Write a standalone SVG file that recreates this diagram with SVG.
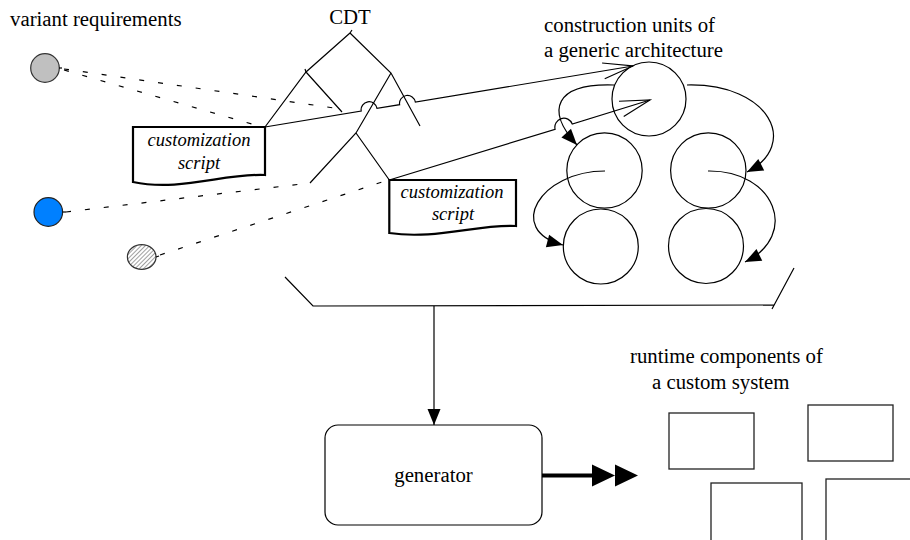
<svg xmlns="http://www.w3.org/2000/svg" width="910" height="540" viewBox="0 0 910 540">
<style>
.t{font-family:"Liberation Serif","Times New Roman",serif;font-size:20.8px;fill:#000}
.it{font-family:"Liberation Serif","Times New Roman",serif;font-size:18.5px;font-style:italic;fill:#000;text-anchor:middle}
.ln{fill:none;stroke:#000;stroke-width:1.2}
.dash{fill:none;stroke:#000;stroke-width:1.2;stroke-dasharray:5,14}
.doc{fill:#fff;stroke:#000;stroke-width:2.2}
.unit{fill:#fff;stroke:#000;stroke-width:1.2}
.rt{fill:#fff;stroke:#222;stroke-width:1.3}
</style>
<defs>
<marker id="vee" markerUnits="userSpaceOnUse" markerWidth="40" markerHeight="24" refX="30" refY="10" orient="auto" overflow="visible">
<path d="M0,2 L30,10 L0,18" fill="none" stroke="#000" stroke-width="1.2"/>
</marker>
<marker id="tri" markerUnits="userSpaceOnUse" markerWidth="20" markerHeight="16" refX="16" refY="6.5" orient="auto" overflow="visible">
<path d="M0,0 L16,6.5 L0,13 Z" fill="#000"/>
</marker>
<pattern id="hatch" width="3" height="3" patternUnits="userSpaceOnUse" patternTransform="rotate(45)">
<line x1="0" y1="0" x2="0" y2="3" stroke="#444" stroke-width="1"/>
</pattern>
</defs>
<rect width="910" height="540" fill="#fff"/>

<g id="labels">
<text class="t" x="10" y="26">variant requirements</text>
<text class="t" x="350" y="24" text-anchor="middle">CDT</text>
<text class="t" x="544" y="32">construction units of</text>
<text class="t" x="544" y="57">a generic architecture</text>
<text class="t" x="630" y="363">runtime components of</text>
<text class="t" x="652" y="389">a custom system</text>
</g>

<g id="req-gray">
<circle cx="45" cy="68" r="14.3" fill="#c0c0c0" stroke="#333" stroke-width="1.2"/>
<line x1="59" y1="68" x2="62" y2="68" stroke="#000" stroke-width="1.2"/>
</g>
<g id="req-blue">
<circle cx="48.3" cy="212" r="14.3" fill="#0080ff" stroke="#222" stroke-width="1.2"/>
<line x1="62.5" y1="212" x2="66" y2="212" stroke="#000" stroke-width="1.2"/>
</g>
<g id="req-hatched">
<ellipse cx="141.7" cy="257" rx="14.3" ry="12.3" fill="#fff"/>
<ellipse cx="141.7" cy="257" rx="14.3" ry="12.3" fill="url(#hatch)" stroke="#333" stroke-width="1.2"/>
<line x1="156" y1="257" x2="159" y2="256" stroke="#000" stroke-width="1.2"/>
</g>

<g id="cdt-tree" class="ln">
<path class="ln" d="M350,33 L306,72 L265,127 M306,72 L342,112 M350,33 L391,73 L420,126 M391,73 L356,133 L310,183 M356,133 L389.3,180"/>
<path class="ln" d="M350,33 L352,30 M306,72 L305,69"/>
</g>

<g id="script-1">
<path class="doc" d="M133,127 H265 V175 C225,173 180,192 133,182 Z"/>
<text class="it" x="199" y="146">customization</text>
<text class="it" x="199" y="169">script</text>
</g>
<g id="script-2">
<path class="doc" d="M389.3,180 H516 V226 C478,224 435,240 389.3,233 Z"/>
<text class="it" x="452" y="198">customization</text>
<text class="it" x="453" y="220">script</text>
</g>

<g id="unit-top"><circle class="unit" cx="649" cy="99" r="37"/></g>
<g id="unit-mid-left"><circle class="unit" cx="604.5" cy="170.5" r="37.7"/></g>
<g id="unit-mid-right"><circle class="unit" cx="708.3" cy="170.5" r="37.7"/></g>
<g id="unit-bottom-left"><circle class="unit" cx="600.8" cy="246.5" r="37.5"/></g>
<g id="unit-bottom-right"><circle class="unit" cx="706" cy="246" r="37.5"/></g>

<g id="architecture-bracket">
<path class="ln" d="M285,277 L313,306 L774,305 M794,268 L772,309"/>
</g>

<g id="generator">
<rect x="325" y="425" width="217" height="100" rx="13" ry="13" fill="#fff" stroke="#000" stroke-width="1.2"/>
<text class="t" x="433.5" y="482" text-anchor="middle">generator</text>
</g>

<g id="runtime-1"><rect class="rt" x="669" y="413" width="85" height="56"/></g>
<g id="runtime-2"><rect class="rt" x="808" y="405" width="85" height="56"/></g>
<g id="runtime-3"><rect class="rt" x="711" y="483" width="91" height="70"/></g>
<g id="runtime-4"><rect class="rt" x="826" y="479" width="100" height="70"/></g>

<g id="connectors">
<line class="dash" x1="64" y1="69" x2="334" y2="108"/>
<line class="dash" x1="64" y1="70" x2="252" y2="124"/>
<line class="dash" x1="66" y1="212" x2="310" y2="183"/>
<line class="dash" x1="160" y1="255" x2="385" y2="181"/>
<path class="ln" d="M265,127 L361.2,111 A8,8 0 0 1 377,108.4 L399.6,104.7 A8,8 0 0 1 415.4,102.1 L633,66" marker-end="url(#vee)"/>
<path class="ln" d="M389.3,180 L555.1,129.3 A9,9 0 0 1 572.3,124.1 L650,100" marker-end="url(#vee)"/>
<path class="ln" d="M614,85 C555,83 545,110 577,145" marker-end="url(#tri)"/>
<path class="ln" d="M687,85 C770,83 800,145 747,172" marker-end="url(#tri)"/>
<path class="ln" d="M605,171 C540,171 505,230 563,245" marker-end="url(#tri)"/>
<path class="ln" d="M708,171 C775,170 800,235 745,262" marker-end="url(#tri)"/>
<line class="ln" x1="434" y1="306" x2="434" y2="425" marker-end="url(#tri)"/>
<line x1="542" y1="475.5" x2="594" y2="475.5" stroke="#000" stroke-width="4"/>
<path d="M592,464.5 L615,475.5 L592,486.5 Z M615,464.5 L638,475.5 L615,486.5 Z" fill="#000"/>
</g>
</svg>
